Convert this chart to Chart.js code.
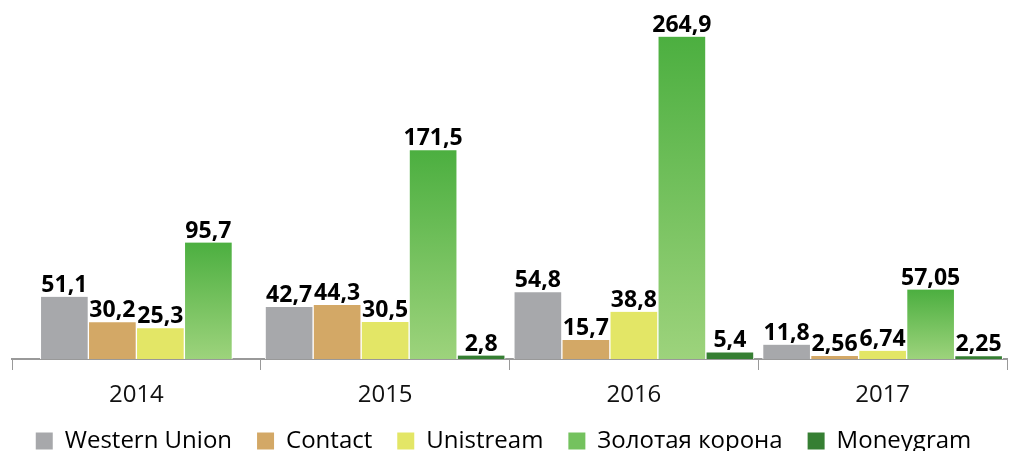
<!DOCTYPE html>
<html>
<head>
<meta charset="utf-8">
<script src="https://cdn.jsdelivr.net/npm/chart.js@4/dist/chart.umd.min.js"></script>
<style>
    html, body { margin: 0; padding: 0; background: #fff; }
    #wrap { width: 1011px; height: 451px; }
</style>
</head>
<body>
<div id="wrap"><canvas id="chart"></canvas></div>
<script>
// Data
const years = ['2014', '2015', '2016', '2017'];
const westernUnion = [51.1, 42.7, 54.8, 11.8];
const contact = [30.2, 44.3, 15.7, 2.56];
const unistream = [25.3, 30.5, 38.8, 6.74];
const zolotayaKorona = [95.7, 171.5, 264.9, 57.05];
const moneygram = [null, 2.8, 5.4, 2.25];

const FONT = '"Open Sans", "Noto Sans", sans-serif';

// green bars fade from dark at the top to light at the base
function greenGradient(ctx) {
    const chart = ctx.chart;
    const y = chart.scales.y;
    if (!y || ctx.raw == null) return '#5cb84a';
    const top = y.getPixelForValue(ctx.raw);
    const base = y.getPixelForValue(0);
    if (!isFinite(top) || !isFinite(base) || top === base) return '#5cb84a';
    const g = chart.ctx.createLinearGradient(0, top, 0, base);
    g.addColorStop(0, '#4caf40');
    g.addColorStop(1, '#9dd37c');
    return g;
}

// value labels above each bar, comma as decimal sign
const valueLabels = {
    id: 'valueLabels',
    afterDatasetsDraw(chart) {
        const ctx = chart.ctx;
        ctx.save();
        ctx.font = 'bold 23px ' + FONT;
        ctx.fillStyle = '#000';
        ctx.textAlign = 'center';
        ctx.textBaseline = 'alphabetic';
        chart.data.datasets.forEach((ds, i) => {
            const meta = chart.getDatasetMeta(i);
            meta.data.forEach((bar, j) => {
                const v = ds.data[j];
                if (v == null) return;
                ctx.fillText(String(v).replace('.', ','), bar.x, bar.y - 5);
            });
        });
        ctx.restore();
    }
};

const common = {
    barThickness: 48,
    skipNull: true,
    borderColor: '#fff',
    borderWidth: { top: 0, bottom: 0, left: 1, right: 1 },
    borderSkipped: false
};

new Chart(document.getElementById('chart'), {
    type: 'bar',
    data: {
        labels: years,
        datasets: [
            { label: 'Western Union', data: westernUnion, backgroundColor: '#a7a8ab', ...common },
            { label: 'Contact', data: contact, backgroundColor: '#d3a866', ...common },
            { label: 'Unistream', data: unistream, backgroundColor: '#e3e666', ...common },
            { label: 'Золотая корона', data: zolotayaKorona, backgroundColor: greenGradient, ...common },
            { label: 'Moneygram', data: moneygram, backgroundColor: '#367f33', ...common }
        ]
    },
    options: {
        responsive: true,
        maintainAspectRatio: false,
        animation: false,
        layout: { padding: { left: 0, right: 4, top: 0, bottom: 0 } },
        plugins: {
            tooltip: { enabled: false },
            legend: {
                position: 'bottom',
                maxHeight: 47,
                labels: {
                    boxWidth: 17,
                    boxHeight: 17,
                    padding: 25,
                    color: '#000',
                    font: { family: FONT, size: 24 },
                    generateLabels(chart) {
                        return chart.data.datasets.map((ds, i) => ({
                            text: ds.label,
                            fillStyle: i === 3 ? '#74c25e' : ds.backgroundColor,
                            strokeStyle: 'transparent',
                            lineWidth: 0,
                            datasetIndex: i
                        }));
                    }
                }
            }
        },
        scales: {
            x: {
                grid: {
                    offset: true,
                    drawOnChartArea: false,
                    drawTicks: true,
                    tickLength: 11,
                    color: '#999'
                },
                border: { color: '#999', width: 2 },
                ticks: {
                    color: '#111',
                    padding: 13,
                    font: { family: FONT, size: 24, lineHeight: 1 }
                },
                afterFit(scale) { scale.height = 45; }
            },
            y: {
                display: true,
                min: 0,
                max: 295,
                grid: { display: false },
                border: { display: false },
                ticks: { display: false },
                afterFit(scale) { scale.width = 12; }
            }
        }
    },
    plugins: [valueLabels]
});
</script>
</body>
</html>
